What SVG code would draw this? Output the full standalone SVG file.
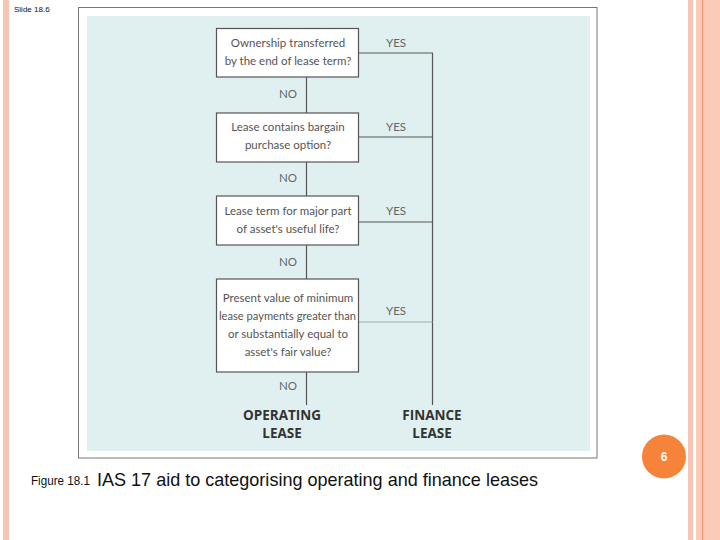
<svg xmlns="http://www.w3.org/2000/svg" width="720" height="540" viewBox="0 0 720 540">
<style>
.box{fill:#fff;stroke:#555;stroke-width:1.2}
.bt{font-family:Lato,"Open Sans",sans-serif;font-size:11.5px;fill:#555;text-anchor:middle}
.lbl{font-family:Lato,"Open Sans",sans-serif;font-size:11.5px;fill:#666;text-anchor:middle}
.big{font-family:"Open Sans",Lato,sans-serif;font-size:13.5px;font-weight:bold;fill:#333;text-anchor:middle}
.ln{stroke:#555;stroke-width:1.2;fill:none}
</style>
<rect width="720" height="540" fill="#fff"/>
<rect x="3" y="0" width="6" height="540" fill="#F7C6B4"/>
<rect x="688" y="0" width="5" height="540" fill="#F7C6B4"/>
<rect x="696" y="0" width="24" height="540" fill="#FBCBB8"/>
<rect x="702" y="0" width="1.2" height="540" fill="#EE9A78"/>
<text x="14" y="12" font-family="Liberation Sans,sans-serif" font-size="8" fill="#111">Slide 18.6</text>
<rect x="78.5" y="7.5" width="518.5" height="450.5" fill="#fff" stroke="#777" stroke-width="1"/>
<rect x="87" y="16" width="503" height="435" fill="#E0F0F0"/>
<g id="connectors">
<path class="ln" d="M306.5 77V113M306.5 162V196M306.5 245V279M306.5 372V405"/>
<path class="ln" d="M358 53H432.5V405M358 137H432.5M358 222H432.5"/>
<path d="M358 322H432.5" stroke="#9ab" stroke-width="1" fill="none"/>
</g>
<g id="q1"><rect class="box" x="216.5" y="28.5" width="142" height="48.5"/>
<text class="bt" x="288" y="47">Ownership transferred</text><text class="bt" x="288" y="65">by the end of lease term?</text></g>
<g id="q2"><rect class="box" x="216.5" y="113" width="142" height="49"/>
<text class="bt" x="288" y="131">Lease contains bargain</text><text class="bt" x="288" y="149">purchase option?</text></g>
<g id="q3"><rect class="box" x="216.5" y="196" width="142" height="49"/>
<text class="bt" x="288" y="215">Lease term for major part</text><text class="bt" x="288" y="233">of asset's useful life?</text></g>
<g id="q4"><rect class="box" x="216.5" y="279" width="142" height="93"/>
<text class="bt" x="288" y="302">Present value of minimum</text><text class="bt" x="287.5" y="320" textLength="137" lengthAdjust="spacingAndGlyphs">lease payments greater than</text>
<text class="bt" x="288" y="338">or substantially equal to</text><text class="bt" x="288" y="356">asset's fair value?</text></g>
<g id="labels">
<text class="lbl" x="396" y="47">YES</text><text class="lbl" x="396" y="131">YES</text>
<text class="lbl" x="396" y="215">YES</text><text class="lbl" x="396" y="315">YES</text>
<text class="lbl" x="288" y="98">NO</text><text class="lbl" x="288" y="182">NO</text>
<text class="lbl" x="288" y="266">NO</text><text class="lbl" x="288" y="390">NO</text>
</g>
<g id="operating"><text class="big" x="282" y="420">OPERATING</text><text class="big" x="282" y="438">LEASE</text></g>
<g id="finance"><text class="big" x="432" y="420">FINANCE</text><text class="big" x="432" y="438">LEASE</text></g>
<text x="31" y="485" font-family="Liberation Sans,sans-serif" font-size="12.5" fill="#111" textLength="59" lengthAdjust="spacingAndGlyphs">Figure 18.1</text>
<text x="97" y="486" font-family="Liberation Sans,sans-serif" font-size="19" fill="#111" textLength="441" lengthAdjust="spacingAndGlyphs">IAS 17 aid to categorising operating and finance leases</text>
<circle cx="664" cy="456.5" r="22" fill="#F5843A"/>
<text x="664" y="461" font-family="Liberation Sans,sans-serif" font-size="12" font-weight="bold" fill="#fff" text-anchor="middle">6</text>
</svg>
